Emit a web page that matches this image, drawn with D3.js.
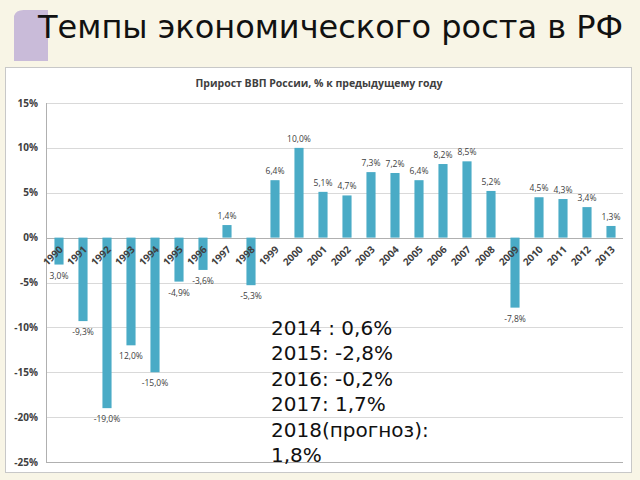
<!DOCTYPE html>
<html>
<head>
<meta charset="utf-8">
<script src="https://d3js.org/d3.v7.min.js"></script>
<style>
  body { margin: 0; background: #f8f5e6; }
  svg { display: block; }
</style>
</head>
<body>
<div id="chart"></div>
<script>
// data
var years = ["1990","1991","1992","1993","1994","1995","1996","1997","1998","1999","2000","2001",
             "2002","2003","2004","2005","2006","2007","2008","2009","2010","2011","2012","2013"];
var growth = [-3.0, -9.3, -19.0, -12.0, -15.0, -4.9, -3.6, 1.4, -5.3, 6.4, 10.0, 5.1,
              4.7, 7.3, 7.2, 6.4, 8.2, 8.5, 5.2, -7.8, 4.5, 4.3, 3.4, 1.3];
var barLabels = ["3,0%","-9,3%","-19,0%","12,0%","-15,0%","-4,9%","-3,6%","1,4%","-5,3%","6,4%","10,0%","5,1%",
                 "4,7%","7,3%","7,2%","6,4%","8,2%","8,5%","5,2%","-7,8%","4,5%","4,3%","3,4%","1,3%"];
var yTicks = [15, 10, 5, 0, -5, -10, -15, -20, -25];
var notes = ["2014 : 0,6%", "2015: -2,8%", "2016: -0,2%", "2017: 1,7%", "2018(прогноз):", "1,8%"];

var width = 640, height = 480;

var svg = d3.select("#chart").append("svg")
  .attr("width", width)
  .attr("height", height);

svg.append("rect").attr("width", width).attr("height", height).attr("fill", "#f8f5e6");

// purple tab behind the title
svg.append("path")
  .attr("d", "M14,16 Q16,9 26,10 L48,10 L48,61 L14,61 Z")
  .attr("fill", "#c9bbd9");

svg.append("text")
  .attr("x", 38).attr("y", 38)
  .attr("font-family", "DejaVu Sans")
  .attr("font-size", 32)
  .attr("fill", "#111")
  .text("Темпы экономического роста в РФ");

// white chart panel
svg.append("rect")
  .attr("x", 5.5).attr("y", 67.5).attr("width", 626).attr("height", 405)
  .attr("fill", "#fff").attr("stroke", "#c8c8c8");

svg.append("text")
  .attr("x", 319).attr("y", 87)
  .attr("text-anchor", "middle")
  .attr("font-family", "Open Sans")
  .attr("font-weight", "bold")
  .attr("font-size", 10.5)
  .attr("fill", "#404040")
  .text("Прирост ВВП России, % к предыдущему году");

var x = d3.scaleBand().domain(years).range([47, 623]).paddingInner(0.62).paddingOuter(0.31);
var y = d3.scaleLinear().domain([-25, 15]).range([462, 103]);

// gridlines
svg.append("g").selectAll("line")
  .data(yTicks)
  .enter().append("line")
  .attr("x1", 46).attr("x2", 623)
  .attr("y1", function(d) { return Math.round(y(d)) + 0.5; })
  .attr("y2", function(d) { return Math.round(y(d)) + 0.5; })
  .attr("stroke", function(d) { return d === 0 || d === -25 ? "#b0b0b0" : "#d9d9d9"; });

svg.append("line")
  .attr("x1", 46.5).attr("x2", 46.5)
  .attr("y1", y(15)).attr("y2", y(-25))
  .attr("stroke", "#b0b0b0");

// y axis labels
svg.append("g").selectAll("text")
  .data(yTicks)
  .enter().append("text")
  .attr("x", 38)
  .attr("y", function(d) { return y(d) + 3.5; })
  .attr("text-anchor", "end")
  .attr("font-family", "Open Sans")
  .attr("font-weight", "bold")
  .attr("font-size", 10)
  .attr("fill", "#404040")
  .text(function(d) { return d + "%"; });

// bars
svg.append("g").selectAll("rect")
  .data(growth)
  .enter().append("rect")
  .attr("x", function(d, i) { return x(years[i]); })
  .attr("width", x.bandwidth())
  .attr("y", function(d) { return y(Math.max(0, d)); })
  .attr("height", function(d) { return Math.abs(y(d) - y(0)); })
  .attr("fill", "#4aabc6");

// value labels
svg.append("g").selectAll("text")
  .data(growth)
  .enter().append("text")
  .attr("x", function(d, i) { return x(years[i]) + x.bandwidth() / 2; })
  .attr("y", function(d) { return d >= 0 ? y(d) - 6 : y(d) + 14; })
  .attr("text-anchor", "middle")
  .attr("font-family", "Open Sans")
  .attr("font-size", 8.5)
  .attr("fill", "#404040")
  .text(function(d, i) { return barLabels[i]; });

// rotated year labels just under the zero line
svg.append("g").selectAll("text")
  .data(years)
  .enter().append("text")
  .attr("transform", function(d) {
    return "translate(" + (x(d) + x.bandwidth() / 2 + 2) + "," + (y(0) + 10) + ") rotate(-45)";
  })
  .attr("text-anchor", "end")
  .attr("dy", "0.35em")
  .attr("font-family", "Open Sans")
  .attr("font-weight", "bold")
  .attr("font-size", 10)
  .attr("fill", "#404040")
  .text(function(d) { return d; });

// notes on later years
svg.append("g").selectAll("text")
  .data(notes)
  .enter().append("text")
  .attr("x", 271)
  .attr("y", function(d, i) { return 335 + i * 25.4; })
  .attr("font-family", "DejaVu Sans")
  .attr("font-size", 20)
  .attr("fill", "#111")
  .text(function(d) { return d; });
</script>
</body>
</html>
